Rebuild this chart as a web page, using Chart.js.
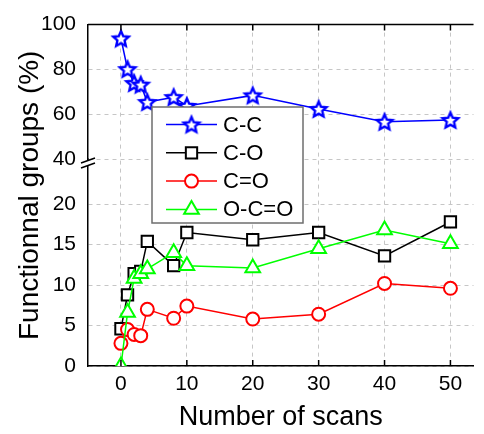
<!DOCTYPE html>
<html>
<head>
<meta charset="utf-8">
<script src="https://cdn.jsdelivr.net/npm/chart.js@4.4.1/dist/chart.umd.min.js"></script>
<style>
  html, body { margin: 0; padding: 0; background: #fff; }
</style>
</head>
<body>
<canvas id="chart" width="484" height="434"></canvas>
<script>
// values
const scans = [0, 1, 2, 3, 4, 8, 10, 20, 30, 40, 50];
const cc = [93.8, 80.1, 73.9, 73.2, 65.4, 67.6, 63.7, 68.4, 62.3, 56.6, 57.4];
const co = [4.6, 8.8, 11.4, 11.7, 15.4, 12.4, 16.5, 15.6, 16.5, 13.6, 17.8];
const cdo = [2.8, 4.5, 3.9, 3.75, 7.0, 5.9, 7.4, 5.8, 6.4, 10.2, 9.6];
const ocdo = [0, 6.6, 10.8, 11.4, 12.0, 14.0, 12.4, 12.1, 14.5, 16.8, 15.1];
const seriesNames = ['C-C', 'C-O', 'C=O', 'O-C=O'];
const xTicks = [0, 10, 20, 30, 40, 50];
const yTicksLow = [0, 5, 10, 15, 20];
const yTicksHigh = [40, 60, 80, 100];

const FONT = "'Liberation Sans', Arial, sans-serif";

// hollow five point star used as the C-C marker
function makeStar() {
    const c = document.createElement('canvas');
    c.width = 22; c.height = 22;
    const g = c.getContext('2d');
    g.beginPath();
    for (let i = 0; i < 10; i++) {
        const r = i % 2 === 0 ? 8.2 : 3.8;
        const a = -Math.PI / 2 + i * Math.PI / 5;
        const px = 11 + r * Math.cos(a), py = 11.8 + r * Math.sin(a);
        if (i === 0) g.moveTo(px, py); else g.lineTo(px, py);
    }
    g.closePath();
    g.fillStyle = '#fff';
    g.fill();
    g.lineWidth = 2.4;
    g.strokeStyle = '#0000ff';
    g.stroke();
    return c;
}
const star = makeStar();

const pts = ys => scans.map((x, i) => ({ x: x, y: ys[i] }));

function series(i, ys, color, style, radius, axis) {
    return {
        label: seriesNames[i],
        data: pts(ys),
        yAxisID: axis,
        borderColor: color,
        borderWidth: 1.5,
        pointStyle: style,
        pointRadius: radius,
        pointBorderWidth: 2,
        pointBorderColor: color,
        pointBackgroundColor: '#fff',
        order: 4 - i
    };
}

// draw a marker the same way for the legend
function drawMarker(ctx, ds, x, y) {
    const r = ds.pointRadius;
    if (ds.pointStyle instanceof HTMLCanvasElement) {
        ctx.drawImage(ds.pointStyle, x - 11, y - 11);
        return;
    }
    ctx.save();
    ctx.beginPath();
    if (ds.pointStyle === 'rect') {
        const s = r * Math.SQRT1_2;
        ctx.rect(x - s, y - s, 2 * s, 2 * s);
    } else if (ds.pointStyle === 'circle') {
        ctx.arc(x, y, r, 0, Math.PI * 2);
    } else if (ds.pointStyle === 'triangle') {
        let a = 0;
        ctx.moveTo(x + Math.sin(a) * r, y - Math.cos(a) * r);
        a += 2 * Math.PI / 3;
        ctx.lineTo(x + Math.sin(a) * r, y - Math.cos(a) * r);
        a += 2 * Math.PI / 3;
        ctx.lineTo(x + Math.sin(a) * r, y - Math.cos(a) * r);
        ctx.closePath();
    }
    ctx.fillStyle = '#fff';
    ctx.fill();
    ctx.lineWidth = ds.pointBorderWidth;
    ctx.strokeStyle = ds.borderColor;
    ctx.stroke();
    ctx.restore();
}

// frame top, inward ticks, axis break, y title and legend box
const decorations = {
    id: 'decorations',
    afterDatasetsDraw(chart) {
        const ctx = chart.ctx;
        const a = chart.chartArea;
        const xs = chart.scales.x;
        ctx.save();
        ctx.strokeStyle = '#000';
        ctx.lineWidth = 1.5;
        ctx.beginPath();
        ctx.moveTo(a.left, a.top);
        ctx.lineTo(a.right, a.top);
        xTicks.forEach(v => {
            const px = xs.getPixelForValue(v);
            ctx.moveTo(px, a.bottom);
            ctx.lineTo(px, a.bottom - 6);
            ctx.moveTo(px, a.top);
            ctx.lineTo(px, a.top + 6);
        });
        ctx.stroke();

        // axis break on the left axis
        const by = chart.scales.yHigh.bottom + 3;
        ctx.fillStyle = '#fff';
        ctx.fillRect(a.left - 2, by - 1, 4, 5);
        ctx.beginPath();
        ctx.moveTo(a.left - 7, by + 1);
        ctx.lineTo(a.left + 7, by - 4);
        ctx.moveTo(a.left - 7, by + 6);
        ctx.lineTo(a.left + 7, by + 1);
        ctx.stroke();

        // y title
        ctx.fillStyle = '#000';
        ctx.font = '28px ' + FONT;
        ctx.textAlign = 'center';
        ctx.textBaseline = 'alphabetic';
        ctx.translate(38, (a.top + a.bottom) / 2);
        ctx.rotate(-Math.PI / 2);
        ctx.fillText('Functionnal groups (%)', 0, 0);
        ctx.restore();

        // legend
        ctx.save();
        ctx.fillStyle = '#fff';
        ctx.fillRect(152, 107, 151, 116);
        ctx.strokeStyle = '#6e6e6e';
        ctx.lineWidth = 1.5;
        ctx.strokeRect(152, 107, 151, 116);
        ctx.font = '22px ' + FONT;
        ctx.textAlign = 'left';
        ctx.textBaseline = 'middle';
        chart.data.datasets.forEach((ds, i) => {
            const ly = 124.5 + i * 28.3;
            ctx.strokeStyle = ds.borderColor;
            ctx.lineWidth = 1.5;
            ctx.beginPath();
            ctx.moveTo(166, ly);
            ctx.lineTo(217, ly);
            ctx.stroke();
            drawMarker(ctx, ds, 191.5, ly);
            ctx.fillStyle = '#000';
            ctx.fillText(ds.label, 223, ly + 1);
        });
        ctx.restore();
    }
};

const gridColor = '#c6c6c6';
const tickFont = { size: 21, family: FONT };

new Chart(document.getElementById('chart'), {
    type: 'line',
    data: {
        datasets: [
            series(0, cc, '#0000ff', star, 8, 'yHigh'),
            series(1, co, '#000000', 'rect', 8, 'y'),
            series(2, cdo, '#ff0000', 'circle', 6.5, 'y'),
            series(3, ocdo, '#00ff00', 'triangle', 8.5, 'y')
        ]
    },
    options: {
        responsive: false,
        animation: false,
        layout: { padding: { top: 18, right: 0, bottom: 0, left: 0 } },
        plugins: {
            legend: { display: false },
            tooltip: { enabled: false }
        },
        scales: {
            x: {
                type: 'linear',
                min: -5,
                max: 53.5,
                afterBuildTicks: s => { s.ticks = xTicks.map(v => ({ value: v })); },
                afterFit: s => { s.height = 68; },
                grid: { color: gridColor, lineWidth: 1, drawTicks: false },
                border: { display: true, color: '#000', width: 1.5, dash: [4, 4] },
                ticks: { color: '#000', font: tickFont, padding: 6, maxRotation: 0, autoSkip: false },
                title: {
                    display: true,
                    text: 'Number of scans',
                    color: '#000',
                    font: { size: 27, family: FONT },
                    padding: { top: 0, bottom: 0 }
                }
            },
            y: {
                type: 'linear',
                position: 'left',
                stack: 'ys',
                stackWeight: 211,
                min: 0,
                max: 25.58,
                afterBuildTicks: s => { s.ticks = yTicksLow.map(v => ({ value: v })); },
                afterFit: s => { s.width = 88; },
                grid: { color: gridColor, lineWidth: 1, drawTicks: false },
                border: { display: true, color: '#000', width: 1.5, dash: [4, 4] },
                ticks: { color: '#000', font: tickFont, padding: 12, autoSkip: false }
            },
            yHigh: {
                type: 'linear',
                position: 'left',
                stack: 'ys',
                stackWeight: 137,
                min: 40,
                max: 100,
                afterBuildTicks: s => { s.ticks = yTicksHigh.map(v => ({ value: v })); },
                afterFit: s => { s.width = 88; },
                grid: { color: gridColor, lineWidth: 1, drawTicks: false },
                border: { display: true, color: '#000', width: 1.5, dash: [4, 4] },
                ticks: { color: '#000', font: tickFont, padding: 12, autoSkip: false }
            }
        }
    },
    plugins: [decorations]
});
</script>
</body>
</html>
